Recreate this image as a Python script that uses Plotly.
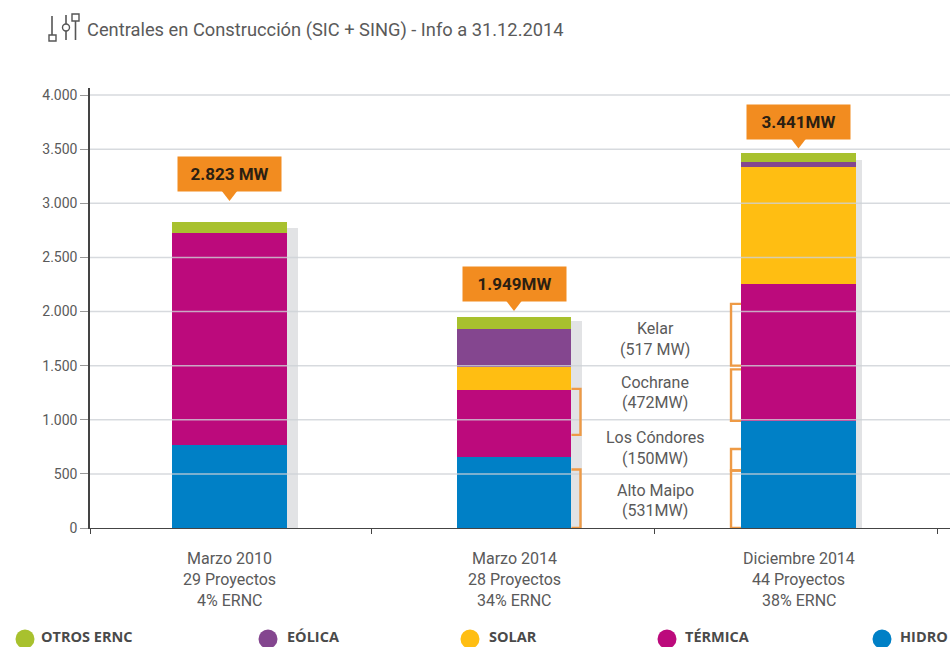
import plotly.graph_objects as go

# ---- data ----
periods = ["Marzo 2010", "Marzo 2014", "Diciembre 2014"]
projects = ["29 Proyectos", "28 Proyectos", "44 Proyectos"]
ernc = ["4% ERNC", "34% ERNC", "38% ERNC"]
hidro = [767, 660, 990]
termica = [1958, 615, 1268]
solar = [0, 215, 1077]
eolica = [0, 350, 50]
otros = [98, 109, 76]
shadow = [2770, 1915, 3400]
totals_text = ["2.823 MW", "1.949MW", "3.441MW"]
y_ticks = [0, 500, 1000, 1500, 2000, 2500, 3000, 3500, 4000]
y_labels = ["0", "500", "1.000", "1.500", "2.000", "2.500", "3.000", "3.500", "4.000"]
series_names = ["HIDRO", "TÉRMICA", "SOLAR", "EÓLICA", "OTROS ERNC"]
series_colors = ["#0080C6", "#BC0A7C", "#FFBE12", "#84468F", "#A8C12E"]
legend_names = ["OTROS ERNC", "EÓLICA", "SOLAR", "TÉRMICA", "HIDRO"]
legend_colors = ["#A8C12E", "#84468F", "#FFBE12", "#BC0A7C", "#0080C6"]
bracket_names = ["Kelar", "Cochrane", "Los Cóndores", "Alto Maipo"]
bracket_mw = ["(517 MW)", "(472MW)", "(150MW)", "(531MW)"]
# bracket spans (MW) on Marzo 2014 and Diciembre 2014
brackets_mid = [(0, 540), (860, 1285)]
brackets_dec = [(0, 531), (531, 730), (990, 1465), (1500, 2070)]

# ---- page geometry ----
W, H = 950, 647
L, R, T, B = 90, 950, 88, 528
GRAY = "#5a5a5a"
FONT = "Roboto"
BAR_W = 0.404
x_pos = [0, 1, 2]
STEP = 284.5
X_MIN, X_MAX = (L - 229.5) / STEP, (R - 229.5) / STEP
shadow_shift_px = [11, 11, 6]


def pxx(px):
    return (px - L) / (R - L)


def pxy(py):
    return (B - py) / (B - T)


def dy(py):
    return (B - py) / 433 * 4000


fig = go.Figure()

# shadows behind the bars
fig.add_trace(go.Bar(x=[v + s / STEP for v, s in zip(x_pos, shadow_shift_px)], y=shadow, width=BAR_W,
                     marker=dict(color="#E2E3E5", line_width=0), showlegend=False))

# stacked bars
stack = [hidro, termica, solar, eolica, otros]
base = [0, 0, 0]
for name, color, vals in zip(series_names, series_colors, stack):
    fig.add_trace(go.Bar(x=x_pos, y=vals, base=list(base), width=BAR_W, name=name,
                         marker=dict(color=color, line_width=0), showlegend=False))
    base = [b + v for b, v in zip(base, vals)]

# grid lines run across the bars in the original
for v in y_ticks[1:]:
    fig.add_trace(go.Scatter(x=[X_MIN, X_MAX], y=[v, v], mode="lines",
                             line=dict(color="rgba(205,209,214,0.8)", width=1.5), showlegend=False))

# brackets
ORANGE = "#EE9A45"
right = x_pos[1] + BAR_W / 2
left = x_pos[2] - BAR_W / 2
for lo, hi in brackets_mid:
    fig.add_trace(go.Scatter(x=[right, right + 9 / STEP, right + 9 / STEP, right], y=[lo, lo, hi, hi],
                             mode="lines", line=dict(color=ORANGE, width=2.4), showlegend=False))
for lo, hi in brackets_dec:
    fig.add_trace(go.Scatter(x=[left, left - 10 / STEP, left - 10 / STEP, left], y=[lo, lo, hi, hi],
                             mode="lines", line=dict(color=ORANGE, width=2.4), showlegend=False))

# callout pointers
CALL = "#F28C20"
box_mid_px = [174, 284, 121.5]
fig.add_trace(go.Scatter(x=x_pos, y=[dy(p + 19.5) for p in box_mid_px], mode="markers",
                         marker=dict(symbol="triangle-down", size=15, color=CALL, line_width=0),
                         showlegend=False, cliponaxis=False))

shapes = []

# legend dots
legend_dot_px = [25, 268, 470, 667, 882]
legend_text_px = [40, 286, 488, 684, 899]
for c, cx in zip(legend_colors, legend_dot_px):
    shapes.append(dict(type="circle", xref="paper", yref="paper",
                       x0=pxx(cx - 9.5), x1=pxx(cx + 9.5), y0=pxy(648.5), y1=pxy(629.5),
                       fillcolor=c, line_width=0))

# title icon
ICON = "#555555"
for x0, y0, y1 in [(52, 16, 35), (66, 15, 40), (75.5, 21, 40)]:
    shapes.append(dict(type="line", xref="paper", yref="paper", x0=pxx(x0), x1=pxx(x0),
                       y0=pxy(y0), y1=pxy(y1), line=dict(color=ICON, width=1.6)))
for x0, x1, y0, y1 in [(49, 56, 35, 41), (72, 79, 14, 21)]:
    shapes.append(dict(type="rect", xref="paper", yref="paper", x0=pxx(x0), x1=pxx(x1),
                       y0=pxy(y0), y1=pxy(y1), fillcolor="white", line=dict(color=ICON, width=1.4)))
shapes.append(dict(type="circle", xref="paper", yref="paper", x0=pxx(62.5), x1=pxx(69.5),
                   y0=pxy(24), y1=pxy(31), fillcolor="white", line=dict(color=ICON, width=1.4)))

ann = []
# title
ann.append(dict(text="Centrales en Construcción (SIC + SING) - Info a 31.12.2014", xref="paper", yref="paper",
                x=pxx(85), y=pxy(30), xanchor="left", yanchor="middle", showarrow=False,
                font=dict(family=FONT, size=18.3, color=GRAY)))
# callouts
for x, mid, t in zip(x_pos, box_mid_px, totals_text):
    ann.append(dict(text=f"<b>{t}</b>", x=x, y=dy(mid), xref="x", yref="y", showarrow=False,
                    width=99, height=30, bgcolor=CALL, borderpad=2, align="center", valign="middle",
                    font=dict(family=FONT, size=17, color="#2b2012")))
# category labels
for i, x in enumerate(x_pos):
    for text, py in zip([periods[i], projects[i], ernc[i]], [558, 579, 600]):
        ann.append(dict(text=text, x=x, xref="x", y=pxy(py), yref="paper", yanchor="middle", showarrow=False,
                        font=dict(family=FONT, size=16, color=GRAY)))
# bracket labels
rows_px = [(328, 349), (382, 403), (437, 458), (490, 510)]
for n, m, (p1, p2) in zip(bracket_names, bracket_mw, rows_px):
    for text, py in ((n, p1), (m, p2)):
        ann.append(dict(text=text, xref="paper", yref="paper", x=pxx(655), y=pxy(py), yanchor="middle",
                        showarrow=False, font=dict(family=FONT, size=16, color=GRAY)))
# legend labels
for n, px in zip(legend_names, legend_text_px):
    ann.append(dict(text=f"<b>{n}</b>", xref="paper", yref="paper", x=pxx(px), y=pxy(636.5), xanchor="left",
                    yanchor="middle", showarrow=False, borderpad=0,
                    font=dict(family="Open Sans", size=14.5, color="#4a4a4a")))

fig.update_layout(
    width=W, height=H, autosize=False,
    margin=dict(l=L, r=W - R, t=T, b=H - B, pad=0),
    paper_bgcolor="white", plot_bgcolor="white",
    barmode="overlay", bargap=0, hovermode=False, showlegend=False,
    shapes=shapes, annotations=ann,
    font=dict(family=FONT, color=GRAY),
    xaxis=dict(range=[X_MIN, X_MAX], tickmode="array",
               tickvals=[-0.49, 0.5, 1.495, 2.49], ticktext=["", "", "", ""],
               ticks="outside", ticklen=5, tickcolor="#444", showgrid=False, zeroline=False,
               showline=True, linecolor="#444", linewidth=1.2),
    yaxis=dict(range=[0, 440 / 433 * 4000], tickmode="array", tickvals=y_ticks, ticktext=y_labels,
               ticks="outside", ticklen=8, tickcolor="#999", tickfont=dict(family=FONT, size=14, color=GRAY),
               showgrid=False, zeroline=False, showline=True, linecolor="#444", linewidth=1.5),
)

fig.write_html("out.html", config=dict(displayModeBar=False),
               post_script="document.body.style.margin='0';document.documentElement.style.overflow='hidden';")
